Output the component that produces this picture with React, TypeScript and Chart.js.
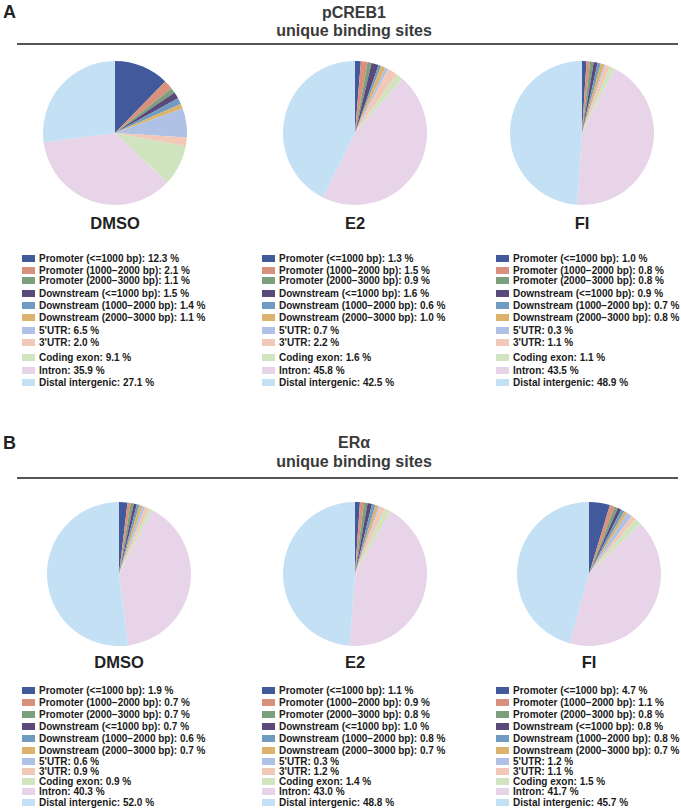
import React, { useEffect, useRef } from "react";
import { Chart, registerables } from "chart.js";

Chart.register(...registerables);

const categories = [
  "Promoter (<=1000 bp)",
  "Promoter (1000\u22122000 bp)",
  "Promoter (2000\u22123000 bp)",
  "Downstream (<=1000 bp)",
  "Downstream (1000\u22122000 bp)",
  "Downstream (2000\u22123000 bp)",
  "5'UTR",
  "3'UTR",
  "Coding exon",
  "Intron",
  "Distal intergenic",
];

const colors = [
  "#42599b",
  "#d8917c",
  "#7c9f7e",
  "#5a4a7c",
  "#719cc2",
  "#dbb36c",
  "#afc2e6",
  "#f2c8b8",
  "#d0e4bf",
  "#e8d4e8",
  "#c3e0f5",
];

const conditions = ["DMSO", "E2", "FI"];

const pcreb1DMSO = [12.3, 2.1, 1.1, 1.5, 1.4, 1.1, 6.5, 2.0, 9.1, 35.9, 27.1];
const pcreb1E2 = [1.3, 1.5, 0.9, 1.6, 0.6, 1.0, 0.7, 2.2, 1.6, 45.8, 42.5];
const pcreb1FI = [1.0, 0.8, 0.8, 0.9, 0.7, 0.8, 0.3, 1.1, 1.1, 43.5, 48.9];

const eraDMSO = [1.9, 0.7, 0.7, 0.7, 0.6, 0.7, 0.6, 0.9, 0.9, 40.3, 52.0];
const eraE2 = [1.1, 0.9, 0.8, 1.0, 0.8, 0.7, 0.3, 1.2, 1.4, 43.0, 48.8];
const eraFI = [4.7, 1.1, 0.8, 0.8, 0.8, 0.7, 1.2, 1.1, 1.5, 41.7, 45.7];

const FONT = '"Liberation Sans", Arial, Helvetica, sans-serif';
const PIE = 144;

// legend row offsets (layout only)
const rowsA = [0, 12, 22, 35, 47, 59, 72, 84, 99, 112, 124];
const rowsB = [0, 12, 24, 36, 48, 60, 71, 81, 91, 101, 112];

function Pie({ values, cx, cy }: { values: number[]; cx: number; cy: number }) {
  const ref = useRef<HTMLCanvasElement | null>(null);
  useEffect(() => {
    if (!ref.current) return;
    const chart = new Chart(ref.current, {
      type: "pie",
      data: {
        labels: categories,
        datasets: [
          {
            data: values,
            backgroundColor: colors,
            borderWidth: 0,
          },
        ],
      },
      options: {
        responsive: false,
        animation: false,
        layout: { padding: 0 },
        plugins: { legend: { display: false }, tooltip: { enabled: false } },
      },
    });
    return () => chart.destroy();
  }, [values]);
  return (
    <canvas
      ref={ref}
      width={PIE}
      height={PIE}
      style={{ position: "absolute", left: cx - PIE / 2, top: cy - PIE / 2, width: PIE, height: PIE }}
    />
  );
}

function Legend({ values, x, y, rows }: { values: number[]; x: number; y: number; rows: number[] }) {
  return (
    <>
      {categories.map((c, i) => (
        <div
          key={c}
          style={{
            position: "absolute",
            left: x,
            top: y + rows[i] - 6,
            height: 12,
            display: "flex",
            alignItems: "center",
            whiteSpace: "nowrap",
            fontFamily: FONT,
            fontWeight: "bold",
            fontSize: 10,
            color: "#1a1a1a",
          }}
        >
          <span
            style={{
              display: "inline-block",
              width: 13,
              height: 7,
              background: colors[i],
              marginRight: 4,
            }}
          />
          <span>{`${c}: ${values[i].toFixed(1)} %`}</span>
        </div>
      ))}
    </>
  );
}

function Section({
  letter,
  title,
  data,
  top,
  titleY,
  subY,
  lineY,
  pieY,
  pieXs,
  labelY,
  legendY,
  rows,
}: {
  letter: string;
  title: string;
  data: number[][];
  top: number;
  titleY: number;
  subY: number;
  lineY: number;
  pieY: number;
  pieXs: number[];
  labelY: number;
  legendY: number;
  rows: number[];
}) {
  const legendXs = [22, 262, 496];
  const txt = (y: number, s: string, size: number) => (
    <div
      style={{
        position: "absolute",
        left: 0,
        width: 708,
        top: y - size * 0.6,
        textAlign: "center",
        fontFamily: FONT,
        fontWeight: "bold",
        fontSize: size,
        color: "#3a3a3a",
        lineHeight: `${size * 1.2}px`,
      }}
    >
      {s}
    </div>
  );
  return (
    <>
      <div
        style={{
          position: "absolute",
          left: 3,
          top: top - 10,
          fontFamily: FONT,
          fontWeight: "bold",
          fontSize: 18,
          lineHeight: "20px",
          color: "#222",
        }}
      >
        {letter}
      </div>
      {txt(titleY, title, 16)}
      {txt(subY, "unique binding sites", 16)}
      <div
        style={{
          position: "absolute",
          left: 17,
          width: 661,
          top: lineY - 1,
          height: 2,
          background: "#555",
        }}
      />
      {data.map((vals, i) => (
        <React.Fragment key={i}>
          <Pie values={vals} cx={pieXs[i]} cy={pieY} />
          <div
            style={{
              position: "absolute",
              left: pieXs[i] - 60,
              width: 120,
              top: labelY - 10,
              lineHeight: "20px",
              textAlign: "center",
              fontFamily: FONT,
              fontWeight: "bold",
              fontSize: 16.5,
              color: "#222",
            }}
          >
            {conditions[i]}
          </div>
          <Legend values={vals} x={legendXs[i]} y={legendY} rows={rows} />
        </React.Fragment>
      ))}
    </>
  );
}

export default function App() {
  return (
    <div
      style={{
        position: "absolute",
        left: 0,
        top: 0,
        width: 681,
        height: 808,
        background: "#fff",
        overflow: "hidden",
      }}
    >
      <Section
        letter="A"
        title="pCREB1"
        data={[pcreb1DMSO, pcreb1E2, pcreb1FI]}
        top={12}
        titleY={13}
        subY={31}
        lineY={44}
        pieY={133}
        pieXs={[115, 355, 582]}
        labelY={223}
        legendY={258}
        rows={rowsA}
      />
      <Section
        letter="B"
        title={"ER\u03b1"}
        data={[eraDMSO, eraE2, eraFI]}
        top={443}
        titleY={443}
        subY={462}
        lineY={478}
        pieY={574}
        pieXs={[119, 355, 589]}
        labelY={662}
        legendY={690}
        rows={rowsB}
      />
    </div>
  );
}
